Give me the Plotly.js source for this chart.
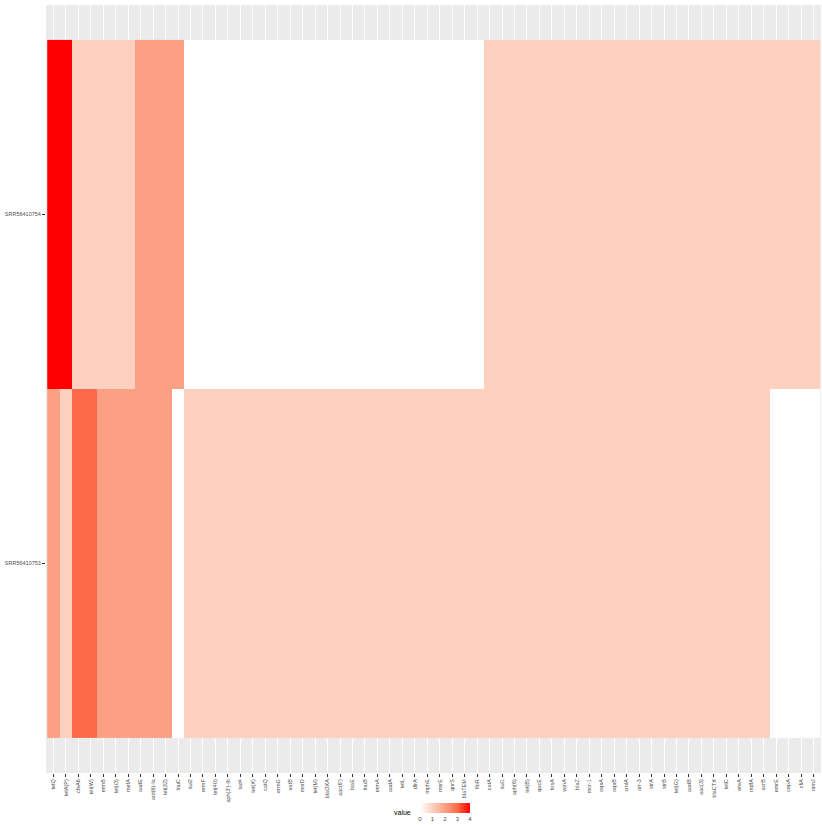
<!DOCTYPE html>
<html>
<head>
<meta charset="utf-8">
<script src="https://cdn.plot.ly/plotly-3.0.1.min.js"></script>
<style>
  html, body { margin: 0; padding: 0; background: #fff; }
  #chart { width: 822px; height: 825px; }
</style>
</head>
<body>
<div id="chart"></div>
<script>
// Resistance genes on the x axis
const genes = [
  "tetQ","tetA(P)","cfxA6","tet(W)","ermB","tet(O)","mefA","aadE","ant(6)-Ia","tet(32)",
  "lnuC","sul2","ermF","tet(40)","aph(3')-III","sat4","tet(X)","catQ","ermG","vatB",
  "msrD","tet(M)","blaOXA","aac(6')","lsaE","lnuB","ermA","aadA","tetL","dfrA",
  "mphE","msrE","qnrS","blaTEM","floR","catA","sul1","aph(6)","tet(B)","qacE",
  "fosA","vanA","blaZ","mcr-1","oqxA","oqxB","cmlA","arr-3","strA","strB",
  "tet(G)","aadB","aac(3)","blaCTX","tetC","ereA","mdfA","acrB","emrE","cepA",
  "cfiA","nimJ"
];

// Samples on the y axis (bottom to top)
const samples = ["SRR56410753", "SRR56410754"];

// Values per sample, one entry per gene
const valuesSRR56410753 = [
  2,1,3,3,2,2,2,2,2,2,
  0,1,1,1,1,1,1,1,1,1,
  1,1,1,1,1,1,1,1,1,1,
  1,1,1,1,1,1,1,1,1,1,
  1,1,1,1,1,1,1,1,1,1,
  1,1,1,1,1,1,1,1,0,0,
  0,0
];
const valuesSRR56410754 = [
  4,4,1,1,1,1,1,2,2,2,
  2,0,0,0,0,0,0,0,0,0,
  0,0,0,0,0,0,0,0,0,0,
  0,0,0,0,0,1,1,1,1,1,
  1,1,1,1,1,1,1,1,1,1,
  1,1,1,1,1,1,1,1,1,1,
  1,1
];

// Legend ticks
const legendTicks = [0, 1, 2, 3, 4];

const W = 822, H = 825;
const margin = { l: 46, r: 1, t: 5, b: 52, autoexpand: false };
const plotW = W - margin.l - margin.r;
const plotH = H - margin.t - margin.b;
const px2x = px => (px - margin.l) / plotW;
const py2y = py => (H - margin.b - py) / plotH;

const trace = {
  type: "heatmap",
  x: genes,
  y: samples,
  z: [valuesSRR56410753, valuesSRR56410754],
  zmin: 0,
  zmax: 4,
  // white -> red, with intermediate stops following a Lab-like blend
  colorscale: [
    [0.00, "#FFFFFF"],
    [0.25, "#FDD0C0"],
    [0.50, "#FCA083"],
    [0.75, "#FD6A4B"],
    [1.00, "#FF0000"]
  ],
  hoverinfo: "skip",
  colorbar: {
    orientation: "h",
    thicknessmode: "pixels",
    thickness: 10,
    lenmode: "pixels",
    len: 50,
    x: px2x(445),
    xanchor: "center",
    y: py2y(811),
    yanchor: "middle",
    outlinewidth: 0,
    tickmode: "array",
    tickvals: legendTicks,
    ticktext: legendTicks.map(String),
    ticks: "",
    tickfont: { family: "Liberation Sans, Arial, sans-serif", size: 6, color: "#4D4D4D" },
    xpad: 0,
    ypad: 0
  }
};

const layout = {
  width: W,
  height: H,
  margin: margin,
  paper_bgcolor: "#FFFFFF",
  plot_bgcolor: "#EBEBEB",
  showlegend: false,
  font: { family: "Liberation Sans, Arial, sans-serif", color: "#4D4D4D" },
  xaxis: {
    type: "category",
    range: [-0.6, genes.length - 0.4],
    tickmode: "array",
    tickvals: genes,
    ticktext: genes,
    automargin: false,
    showgrid: true,
    gridcolor: "#FFFFFF",
    gridwidth: 1,
    zeroline: false,
    showline: false,
    ticks: "outside",
    ticklen: 3,
    tickwidth: 1,
    tickcolor: "#333333",
    tickangle: -90,
    tickfont: { size: 5.5, color: "#4D4D4D" },
    fixedrange: true
  },
  yaxis: {
    type: "category",
    range: [-0.6, samples.length - 0.4],
    tickmode: "array",
    tickvals: samples,
    ticktext: samples,
    automargin: false,
    showgrid: true,
    gridcolor: "#FFFFFF",
    gridwidth: 1,
    zeroline: false,
    showline: false,
    ticks: "outside",
    ticklen: 3,
    tickwidth: 1,
    tickcolor: "#333333",
    tickfont: { size: 5.5, color: "#4D4D4D" },
    fixedrange: true
  },
  annotations: [
    {
      text: "value",
      xref: "paper",
      yref: "paper",
      x: px2x(402),
      y: py2y(812),
      xanchor: "center",
      yanchor: "middle",
      showarrow: false,
      font: { size: 7, color: "#000000" }
    }
  ]
};

Plotly.newPlot("chart", [trace], layout, { staticPlot: true, displayModeBar: false });
</script>
</body>
</html>
